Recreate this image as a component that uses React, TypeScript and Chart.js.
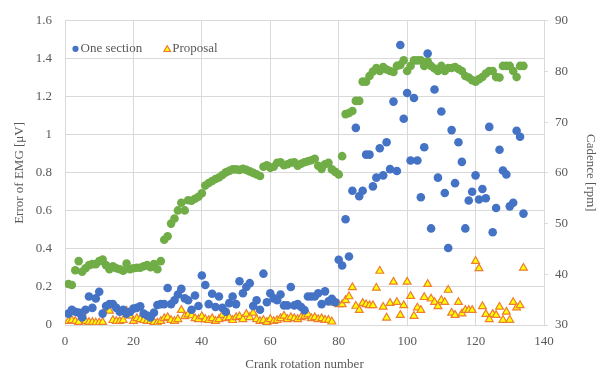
import { useEffect, useRef } from "react";
import { Chart, registerables } from "chart.js";
import { drawPoint } from "chart.js/helpers";
Chart.register(...registerables);

const seriesNames = ["One section", "Proposal", "Cadence"];
const legendNames = ["One section", "Proposal"];
const xTickValues = [0, 20, 40, 60, 80, 100, 120, 140];
const leftTickValues = [0, 0.2, 0.4, 0.6, 0.8, 1, 1.2, 1.4, 1.6];
const rightTickValues = [30, 40, 50, 60, 70, 80, 90];

const oneSection = [
  0.06, 0.08, 0.07, 0.065, 0.04, 0.08, 0.15, 0.09, 0.14, 0.175,
  0.06, 0.1, 0.11, 0.11, 0.09, 0.07, 0.08, 0.06, 0.07, 0.086,
  0.09, 0.098, 0.06, 0.05, 0.04, 0.065, 0.105, 0.11, 0.11, 0.195,
  0.11, 0.13, 0.16, 0.19, 0.14, 0.13, 0.08, 0.155, 0.1, 0.26,
  0.21, 0.11, 0.164, 0.095, 0.15, 0.09, 0.07, 0.115, 0.15, 0.11,
  0.23, 0.167, 0.2, 0.22, 0.1, 0.13, 0.08, 0.27, 0.12, 0.167,
  0.14, 0.13, 0.16, 0.103, 0.103, 0.2, 0.103, 0.11, 0.095, 0.078,
  0.15, 0.15, 0.15, 0.167, 0.11, 0.177, 0.124, 0.138, 0.12, 0.343,
  0.313, 0.556, 0.36, 0.706, 1.037, 0.677, 0.706, 0.896, 0.896, 0.729,
  0.775, 0.93, 0.787, 0.961, 0.82, 1.175, 0.81, 1.473, 1.085, 1.22,
  0.865, 1.194, 0.865, 0.672, 0.935, 1.428, 0.508, 1.239, 0.775, 1.123,
  0.694, 0.405, 1.025, 0.746, 0.961, 0.858, 0.508, 0.655, 0.701, 0.787,
  0.66, 0.715, 0.667, 1.042, 0.488, 0.615, 0.922, 0.813, 0.792, 0.624,
  0.643, 1.022, 0.99, 0.586,
];

const proposal = [
  0.02, 0.025, 0.02, 0.015, 0.064, 0.02, 0.015, 0.015, 0.012, 0.012,
  0.015, 0.086, 0.074, 0.025, 0.02, 0.02, 0.025, 0.074, 0.048, 0.02,
  0.035, 0.03, 0.025, 0.02, 0.02, 0.015, 0.012, 0.02, 0.035, 0.04,
  0.025, 0.02, 0.03, 0.078, 0.045, 0.055, 0.05, 0.035, 0.03, 0.045,
  0.03, 0.025, 0.035, 0.02, 0.03, 0.052, 0.035, 0.04, 0.025, 0.04,
  0.045, 0.03, 0.057, 0.04, 0.064, 0.03, 0.02, 0.025, 0.015, 0.03,
  0.02, 0.025, 0.035, 0.048, 0.03, 0.04, 0.035, 0.03, 0.04, 0.045,
  0.055, 0.035, 0.04, 0.03, 0.035, 0.026, 0.026, 0.017, 0.115, 0.108,
  0.108, 0.13, 0.15, 0.198, 0.1, 0.078, 0.115, 0.108, 0.103, 0.103,
  0.195, 0.284, 0.095, 0.038, 0.115, 0.227, 0.12, 0.052, 0.103, 0.227,
  0.152, 0.047, 0.091, 0.078, 0.146, 0.215, 0.138, 0.12, 0.098, 0.13,
  0.12, 0.184, 0.064, 0.052, 0.12, 0.06, 0.078, 0.078, 0.078, 0.336,
  0.298, 0.098, 0.057, 0.03, 0.057, 0.052, 0.095, 0.026, 0.069, 0.026,
  0.12, 0.091, 0.103, 0.3,
];

const cadence = [
  38.1, 37.9, 40.8, 42.6, 40.5, 41.2, 41.8, 42, 42, 42.6,
  42.9, 41.8, 41, 41.6, 41.2, 41, 40.7, 42.1, 41, 41.2,
  41.3, 41.3, 41.6, 41.8, 41.4, 42, 41, 42.6, 46.8, 47.5,
  50, 51, 52.6, 54.1, 52.6, 54.6, 54.5, 54.9, 55.3, 56,
  57.5, 58, 58.4, 58.8, 59.1, 59.6, 60.1, 60.4, 60.7, 60.7,
  60.6, 60.8, 60.6, 60.3, 60, 59.7, 59.4, 61.2, 61.5, 61,
  61.2, 62, 62.1, 61.5, 61.7, 62, 62.1, 61.4, 61.8, 62.1,
  62.3, 62.5, 62.8, 61.4, 60.8, 61.7, 62, 60.7, 60.2, 59.7,
  63.3, 71.6, 71.8, 72.2, 74.2, 74.2, 78, 78, 79.1, 80,
  80.7, 80.1, 80.9, 80.4, 80.1, 79.9, 81.1, 81.3, 82.2, 80.1,
  81.1, 82.2, 82.2, 82.2, 81.1, 82, 81.1, 80.6, 80.1, 81.1,
  80.1, 80.7, 80.7, 80.9, 80.5, 80.1, 79.1, 78.8, 78.3, 78,
  78.5, 78.9, 79.6, 80.1, 80.1, 78.9, 78.8, 81.1, 81.1, 81.1,
  80.1, 78.9, 81.1, 81.1,
];

const rotation = cadence.map((_, i) => i + 1);

const FONT = "'Liberation Serif', 'Times New Roman', serif";
const TEXT = "#595959";
const GRID = "#D9D9D9";

const insideLegend = {
  id: "insideLegend",
  afterDraw(chart: any) {
    const ctx = chart.ctx as CanvasRenderingContext2D;
    const area = chart.chartArea;
    ctx.save();
    ctx.font = `13px ${FONT}`;
    ctx.textBaseline = "middle";
    ctx.textAlign = "left";
    let x = area.left + 10.5;
    const y = area.top + 28;
    chart.data.datasets.forEach((ds: any) => {
      if (!legendNames.includes(ds.label)) return;
      ctx.fillStyle = ds.backgroundColor;
      ctx.strokeStyle = ds.borderColor;
      ctx.lineWidth = ds.borderWidth;
      const isTri = ds.pointStyle === "triangle";
      drawPoint(
        ctx,
        { pointStyle: ds.pointStyle, radius: isTri ? 3.8 : 3.1, borderWidth: ds.borderWidth, rotation: 0 },
        x,
        isTri ? y + 0.8 : y
      );
      ctx.fillStyle = TEXT;
      ctx.fillText(ds.label, x + 5, y);
      x += 5 + ctx.measureText(ds.label).width + 25;
    });
    ctx.restore();
  },
};

export default function App() {
  const ref = useRef<HTMLCanvasElement | null>(null);
  useEffect(() => {
    if (!ref.current) return;
    const toXY = (arr: number[]) => arr.map((v, i) => ({ x: rotation[i], y: v }));
    const chart = new Chart(ref.current, {
      type: "scatter",
      data: {
        datasets: [
          {
            label: seriesNames[0],
            data: toXY(oneSection),
            yAxisID: "y",
            pointStyle: "circle",
            pointRadius: 4.3,
            backgroundColor: "#4472C4",
            borderColor: "#4472C4",
            borderWidth: 0,
          },
          {
            label: seriesNames[1],
            data: toXY(proposal),
            yAxisID: "y",
            pointStyle: "triangle",
            pointRadius: 4.5,
            backgroundColor: "#FFFF00",
            borderColor: "#ED7D31",
            borderWidth: 1.2,
          },
          {
            label: seriesNames[2],
            data: toXY(cadence),
            yAxisID: "y1",
            pointStyle: "circle",
            pointRadius: 4.3,
            backgroundColor: "#70AD47",
            borderColor: "#70AD47",
            borderWidth: 0,
          },
        ],
      },
      plugins: [insideLegend],
      options: {
        animation: false,
        responsive: false,
        layout: { padding: { top: 15, left: 0, right: 0, bottom: 0 } },
        plugins: {
          tooltip: { enabled: false },
          legend: { display: false },
        },
        scales: {
          x: {
            type: "linear",
            min: xTickValues[0],
            max: xTickValues[xTickValues.length - 1],
            afterBuildTicks: (s) => {
              s.ticks = xTickValues.map((v) => ({ value: v }));
            },
            afterFit: (s) => {
              s.height = 47;
            },
            grid: { color: GRID, drawTicks: false },
            border: { color: GRID },
            ticks: { color: TEXT, font: { family: FONT, size: 13 }, padding: 9 },
            title: {
              display: true,
              text: "Crank rotation number",
              color: TEXT,
              font: { family: FONT, size: 13 },
              padding: { top: 0, bottom: 0 },
            },
          },
          y: {
            position: "left",
            min: leftTickValues[0],
            max: leftTickValues[leftTickValues.length - 1],
            afterBuildTicks: (s) => {
              s.ticks = leftTickValues.map((v) => ({ value: v }));
            },
            afterFit: (s) => {
              s.width = 65;
            },
            grid: { color: GRID, drawTicks: false },
            border: { color: GRID },
            ticks: {
              color: TEXT,
              font: { family: FONT, size: 13 },
              padding: 13,
              callback: (v) => String(v),
            },
            title: {
              display: true,
              text: "Error of EMG [μV]",
              color: TEXT,
              font: { family: FONT, size: 13 },
              padding: { top: 12, bottom: 0 },
            },
          },
          y1: {
            position: "right",
            min: rightTickValues[0],
            max: rightTickValues[rightTickValues.length - 1],
            afterBuildTicks: (s) => {
              s.ticks = rightTickValues.map((v) => ({ value: v }));
            },
            afterFit: (s) => {
              s.width = 58;
            },
            grid: { drawOnChartArea: false, color: GRID, tickLength: 4 },
            border: { color: GRID },
            ticks: { color: TEXT, font: { family: FONT, size: 13 }, padding: 7 },
            title: {
              display: true,
              text: "Cadence [rpm]",
              color: TEXT,
              font: { family: FONT, size: 13 },
              padding: { top: 4, bottom: 0 },
            },
          },
        },
      },
    });
    return () => chart.destroy();
  }, []);
  return (
    <div style={{ position: "fixed", left: 0, top: 0, width: 602, height: 372, background: "#fff" }}>
      <canvas ref={ref} width={602} height={372} style={{ width: 602, height: 372 }} />
    </div>
  );
}
